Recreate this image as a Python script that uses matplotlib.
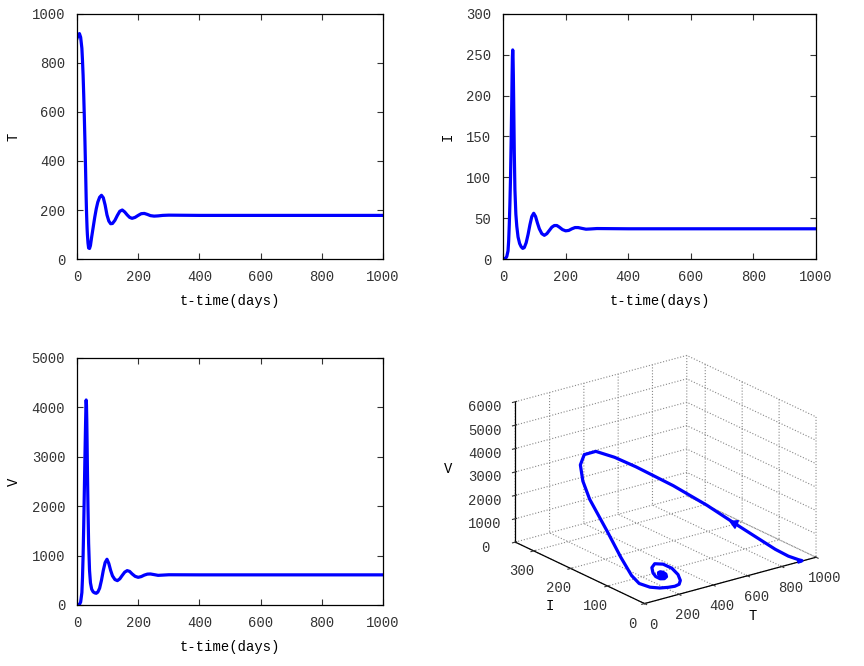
import matplotlib
matplotlib.use("Agg")
import matplotlib.pyplot as plt
import numpy as np

plt.rcParams['font.family'] = ['Liberation Mono', 'DejaVu Sans Mono']
plt.rcParams['font.size'] = 10
plt.rcParams['text.color'] = '#333333'
plt.rcParams['xtick.color'] = '#333333'
plt.rcParams['ytick.color'] = '#333333'
plt.rcParams['grid.linestyle'] = ':'
plt.rcParams['grid.color'] = '#888888'
plt.rcParams['grid.linewidth'] = 0.8

# time (days) and the three state variables
days = [0, 4, 8, 12, 16, 18, 20, 22, 24, 26, 28, 29, 30, 31, 32, 33, 34,
        36, 38, 41, 44, 48, 53, 58, 63, 68, 74, 80, 86, 92, 98, 104, 110, 116,
        124, 132, 140, 148, 156, 164, 172, 180, 190, 200, 210, 220, 230, 240,
        252, 265, 280, 300, 400, 1000]
T_cells = [900, 915, 920, 905, 860, 810, 750, 670, 580, 480, 370, 310, 250,
           200, 160, 125, 100, 65, 45, 43, 55, 90, 130, 170, 205, 232, 252,
           260, 250, 220, 180, 155, 144, 145, 158, 178, 195, 200, 192, 180, 170,
           166, 170, 178, 185, 186, 182, 177, 175, 176, 178, 179, 178, 178]
I_cells = [0, 0.2, 0.8, 3, 10, 22, 42, 68, 100, 145, 195, 225, 248, 256, 248,
           225, 195, 130, 85, 55, 40, 27, 19, 15, 13, 14, 20, 30, 42, 52, 56,
           52, 44, 37, 31, 29, 31, 35, 39, 41, 41, 39, 36, 34.5, 35, 37, 38.5,
           38.5, 37.5, 36.5, 36.8, 37.3, 37, 37]
V_virus = [0, 2, 10, 60, 250, 550, 1000, 1600, 2300, 3000, 3650, 3950, 4150,
           4050, 3750, 3300, 2800, 1950, 1250, 700, 450, 320, 265, 245, 237,
           260, 340, 500, 700, 860, 926, 840, 700, 590, 515, 493, 530, 600, 665,
           696, 680, 630, 580, 560, 575, 605, 625, 628, 615, 600, 605, 612, 610,
           610]

line_color = '#0000ff'
lw = 2.3

fig = plt.figure(figsize=(8.64, 6.66), dpi=100)


def time_panel(rect, values, ymax, ystep, ylabel):
    ax = fig.add_axes(rect)
    ax.plot(days, values, color=line_color, lw=lw, solid_joinstyle='round')
    ax.set_xlim(0, 1000)
    ax.set_ylim(0, ymax)
    ax.set_xticks(np.arange(0, 1001, 200))
    ax.set_yticks(np.arange(0, ymax + 1, ystep))
    ax.tick_params(direction='in', top=True, right=True, length=4, width=0.8)
    ax.tick_params(axis='y', pad=8.5)
    ax.tick_params(axis='x', pad=8)
    for s in ax.spines.values():
        s.set_linewidth(0.9)
    ax.set_xlabel('t-time(days)', labelpad=7)
    ax.set_ylabel(ylabel, labelpad=8)
    return ax


time_panel([0.0891, 0.6111, 0.3542, 0.3679], T_cells, 1000, 200, 'T')
time_panel([0.5822, 0.6111, 0.3623, 0.3679], I_cells, 300, 50, 'I')
time_panel([0.0891, 0.0916, 0.3542, 0.3709], V_virus, 5000, 1000, 'V')

# phase portrait
ax3 = fig.add_axes([0.53, 0.013, 0.47, 0.52], projection='3d')
ax3.patch.set_alpha(0)
ax3.plot(T_cells, I_cells, V_virus, color=line_color, lw=lw)
k = days.index(22)
ax3.plot([T_cells[k]], [I_cells[k]], [V_virus[k]], color=line_color,
         marker=(3, 0, 66), markersize=7, linestyle='none')
ax3.set_xlim(0, 1000)
ax3.set_ylim(0, 350)
ax3.set_zlim(0, 6000)
ax3.set_xticks(np.arange(0, 1001, 200))
ax3.set_yticks([0, 100, 200, 300])
ax3.set_zticks(np.arange(0, 6001, 1000))
ax3.set_proj_type('ortho')
ax3.view_init(elev=21, azim=-127)
ax3.set_box_aspect((1, 1, 0.70), zoom=0.95)
for axis in (ax3.xaxis, ax3.yaxis, ax3.zaxis):
    axis.set_pane_color((1, 1, 1, 0))
    axis.pane.set_edgecolor('#888888')
    axis.pane.set_linestyle(':')
    axis.line.set_linewidth(0.9)
ax3.set_xlabel('T', labelpad=2)
ax3.set_ylabel('I', labelpad=2)
ax3.set_zlabel('V', labelpad=8)
ax3.tick_params(axis='x', pad=1)
ax3.tick_params(axis='y', pad=1)
ax3.tick_params(axis='z', pad=5)

fig.savefig('out.png', dpi=100)
